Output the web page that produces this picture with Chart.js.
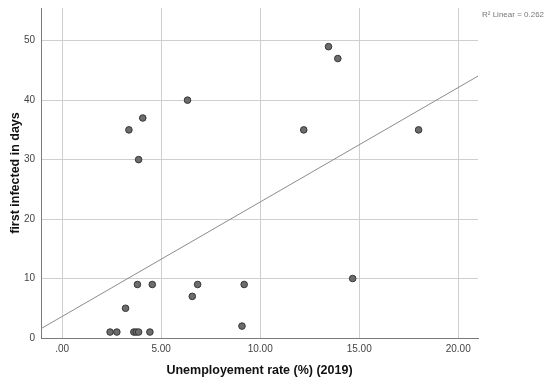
<!DOCTYPE html>
<html>
<head>
<meta charset="utf-8">
<script src="https://cdn.jsdelivr.net/npm/chart.js@4/dist/chart.umd.min.js"></script>
<style>
  html, body { margin: 0; padding: 0; background: #fff; }
  #wrap { width: 550px; height: 384px; }
</style>
</head>
<body>
<div id="wrap"><canvas id="grafico" width="550" height="384"></canvas></div>
<script>
// taxa de desemprego (%) e dias até o primeiro infectado
const desemprego = [2.42, 2.76, 3.62, 3.74, 3.86, 4.43, 9.08, 3.20, 6.57,
    3.80, 4.55, 6.84, 9.19, 14.67, 3.86, 3.37, 12.20, 18.00, 4.07, 6.33, 13.92, 13.45];
const diasInfectado = [1, 1, 1, 1, 1, 1, 2, 5, 7,
    9, 9, 9, 9, 10, 30, 35, 35, 35, 37, 40, 47, 49];

const retaX = [-1.07, 21.0];
const retaY = [1.57, 44.05];

const ticksX = [0, 5, 10, 15, 20];
const textoR2 = 'R\u00B2 Linear = 0.262';

const pontos = desemprego.map((x, i) => ({ x: x, y: diasInfectado[i] }));
const reta = retaX.map((x, i) => ({ x: x, y: retaY[i] }));

const rotuloR2 = {
    id: 'rotuloR2',
    afterDraw(chart) {
        const ctx = chart.ctx;
        ctx.save();
        ctx.font = '8px "Liberation Sans", Arial, sans-serif';
        ctx.fillStyle = '#777';
        ctx.textBaseline = 'middle';
        ctx.fillText(textoR2, 482, 15);
        ctx.restore();
    }
};

const ctx = document.getElementById('grafico').getContext('2d');
new Chart(ctx, {
    type: 'scatter',
    data: {
        datasets: [{
            label: 'pontos',
            data: pontos,
            backgroundColor: '#6c6c6c',
            borderColor: '#363636',
            borderWidth: 1,
            pointRadius: 3.3,
            order: 1
        }, {
            type: 'line',
            label: 'ajuste',
            data: reta,
            borderColor: '#8c8c8c',
            borderWidth: 1,
            pointRadius: 0,
            fill: false,
            order: 2
        }]
    },
    options: {
        responsive: false,
        animation: false,
        layout: { padding: { top: 8, right: 72, left: 0, bottom: 0 } },
        plugins: {
            legend: { display: false },
            tooltip: { enabled: false }
        },
        scales: {
            x: {
                type: 'linear',
                min: -1.07,
                max: 21.0,
                afterFit(scale) {
                    scale.height = 46;
                    scale.paddingLeft = 0;
                    scale.paddingRight = 0;
                },
                afterBuildTicks(scale) { scale.ticks = ticksX.map(v => ({ value: v })); },
                ticks: {
                    includeBounds: false,
                    padding: 5,
                    color: '#444',
                    font: { family: '"Liberation Sans", Arial', size: 10 },
                    callback: v => v === 0 ? '.00' : v.toFixed(2)
                },
                grid: { color: '#cfcfcf', drawTicks: false },
                border: { color: '#7a7a7a', width: 1 },
                title: {
                    display: true,
                    text: 'Unemployement rate (%) (2019)',
                    color: '#111',
                    font: { family: '"Liberation Sans", Arial', size: 12.5, weight: 'bold' },
                    padding: { top: 0, bottom: 6 }
                }
            },
            y: {
                min: 0,
                max: 55.5,
                afterFit(scale) {
                    scale.width = 41;
                    scale.paddingTop = 0;
                    scale.paddingBottom = 0;
                },
                ticks: {
                    stepSize: 10,
                    includeBounds: false,
                    padding: 6,
                    color: '#444',
                    font: { family: '"Liberation Sans", Arial', size: 10 }
                },
                grid: { color: '#cfcfcf', drawTicks: false },
                border: { color: '#7a7a7a', width: 1 },
                title: {
                    display: true,
                    text: 'first infected in days',
                    color: '#111',
                    font: { family: '"Liberation Sans", Arial', size: 12.5, weight: 'bold' },
                    padding: { top: 8, bottom: 8 }
                }
            }
        }
    },
    plugins: [rotuloR2]
});
</script>
</body>
</html>
